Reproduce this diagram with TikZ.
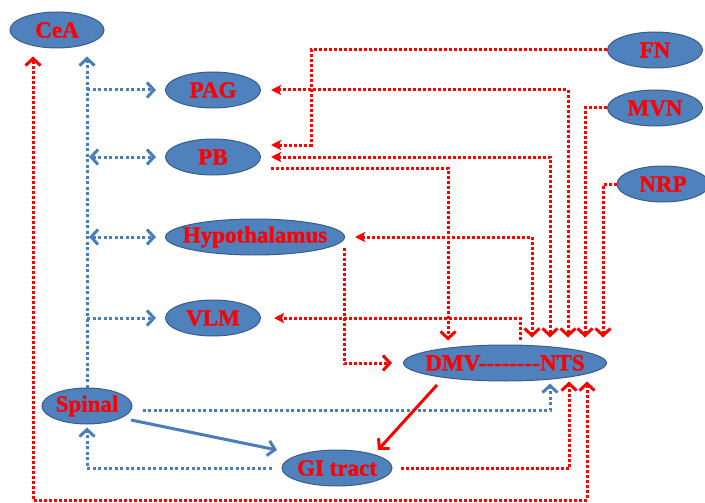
\documentclass[tikz,border=0pt]{standalone}
\usepackage{fontspec}
\setmainfont{Liberation Serif}[BoldFeatures={FakeBold=1.2}]
\usetikzlibrary{shapes.geometric,arrows.meta}
\definecolor{ndfill}{HTML}{4F81BD}
\definecolor{ndline}{HTML}{385D8A}
\definecolor{bline}{HTML}{4A7EBB}
\begin{document}
\begin{tikzpicture}[x=1pt,y=-1pt,
  nd/.style={ellipse, draw=ndline, fill=ndfill, line width=1pt, inner sep=0pt,
    minimum height=36pt, text=red, font=\fontsize{23}{24}\selectfont\bfseries},
  rdot/.style={draw=red, line width=3pt, dash pattern=on 3pt off 2pt},
  bdot/.style={draw=bline, line width=3pt, dash pattern=on 3pt off 2.5pt},
  rsolid/.style={draw=red, line width=3pt},
  bsolid/.style={draw=bline, line width=3pt},
  chev/.tip={Straight Barb[length=7pt,width=15pt]},
  tri/.tip={Stealth[length=10pt,width=10pt,inset=2pt]},
]
\useasboundingbox (0,0) rectangle (705,503);

% nodes
\node[nd, minimum width=94pt]  (CeA)    at (57,30)   {\makebox[0pt]{CeA}};
\node[nd, minimum width=95pt]  (PAG)    at (213,90)  {\makebox[0pt]{PAG}};
\node[nd, minimum width=95pt]  (PB)     at (213,157) {\makebox[0pt]{PB}};
\node[nd, minimum width=179pt] (Hyp)    at (255,237) {\makebox[0pt]{Hypothalamus}};
\node[nd, minimum width=95pt]  (VLM)    at (213,318) {\makebox[0pt]{VLM}};
\node[nd, minimum width=90pt]  (Spinal) at (87,406)  {\makebox[0pt]{Spinal}};
\node[nd, minimum width=110pt] (GI)     at (337,468) {\makebox[0pt]{GI tract}};
\node[nd, minimum width=203pt] (DMV)    at (505,363) {\makebox[0pt]{DMV-{}-{}-{}-{}-{}-{}-{}-NTS}};
\node[nd, minimum width=95pt]  (FN)     at (655,50)  {\makebox[0pt]{FN}};
\node[nd, minimum width=95pt]  (MVN)    at (655,108) {\makebox[0pt]{MVN}};
\node[nd, minimum width=92pt]  (NRP)    at (663,184) {\makebox[0pt]{NRP}};
\coordinate (bl) at (33,500);

% blue dotted connectors
\draw[bdot,-chev,shorten >=8pt] (Spinal.north) -- (Spinal.north |- CeA.south);
\draw[bdot,-chev,shorten >=9pt] (Spinal.north |- PAG.west) -- (PAG.west);
\draw[bdot,chev-chev,shorten >=9pt,shorten <=2pt] (Spinal.north |- PB.west) -- (PB.west);
\draw[bdot,chev-chev,shorten >=9pt,shorten <=2pt] (Spinal.north |- Hyp.west) -- (Hyp.west);
\draw[bdot,-chev,shorten >=9pt] (Spinal.north |- VLM.west) -- (VLM.west);
\draw[bdot,-chev,shorten >=2pt] ([shift={(10,4)}]Spinal.east) -| ([xshift=45pt]DMV.south);
\draw[bdot,-chev,shorten >=3pt] ([xshift=-10pt]GI.west) -| (Spinal.south);
\draw[bsolid,-chev] ([shift={(44,14)}]Spinal.center) -- ([shift={(-60,-18)}]GI.center);

% red connectors
\draw[rsolid,-chev] ([shift={(-68,22)}]DMV.center) -- ([shift={(41,-18)}]GI.center);
\draw[rdot,-tri] (FN.west) -| ([shift={(50,-12)}]PB.east) -- ([shift={(10,-12)}]PB.east);
\draw[rdot,tri-chev,shorten >=7pt] ([xshift=10pt]PAG.east) -| ([xshift=63pt]DMV.north);
\draw[rdot,tri-chev,shorten >=7pt] ([xshift=10pt]PB.east) -| ([xshift=45pt]DMV.north);
\draw[rdot,-chev,shorten >=4pt] ([shift={(10,11)}]PB.east) -| ([xshift=-57pt]DMV.north);
\draw[rdot,tri-chev,shorten >=7pt] ([xshift=10pt]Hyp.east) -| ([xshift=27pt]DMV.north);
\draw[rdot,-chev,shorten >=2pt] ([shift={(89,11)}]Hyp.center) |- ([xshift=-9pt]DMV.west);
\draw[rdot,-tri] ([shift={(15,-5)}]DMV.north) |- ([xshift=13pt]VLM.east);
\draw[rdot,-chev,shorten >=7pt] (MVN.west) -| ([xshift=80pt]DMV.north);
\draw[rdot,-chev,shorten >=7pt] (NRP.west) -| ([xshift=98pt]DMV.north);
\draw[rdot,-chev] ([xshift=8pt]GI.east) -| ([xshift=64pt]DMV.south);
\draw[rdot,chev-chev,shorten >=8pt] ([xshift=82pt]DMV.south) |- (bl) -- ([xshift=-24pt]CeA.south);
\end{tikzpicture}
\end{document}
